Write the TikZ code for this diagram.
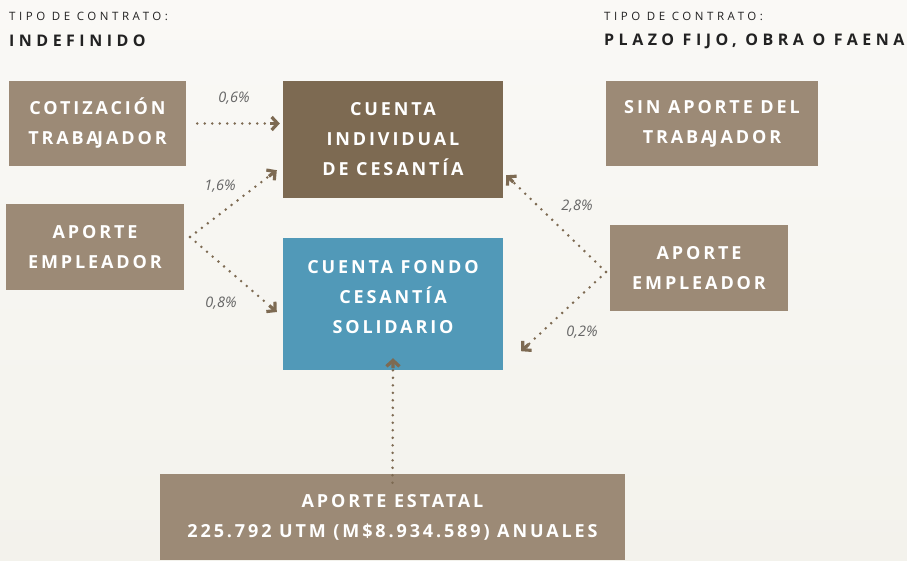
\documentclass[tikz,border=0pt]{standalone}
\usepackage{fontspec}
\setmainfont{Open Sans}
\newfontfamily\boxfont[LetterSpace=16]{Open Sans}
\newfontfamily\titlefont[LetterSpace=31]{Open Sans}
\newfontfamily\headfont[LetterSpace=28]{Open Sans}
\usetikzlibrary{arrows.meta,calc}
\definecolor{bgtop}{HTML}{FAF9F6}
\definecolor{bgbot}{HTML}{F3F2EC}
\definecolor{boxlight}{HTML}{9C8A76}
\definecolor{boxdark}{HTML}{7D6A52}
\definecolor{boxblue}{HTML}{5199B8}
\definecolor{labelgray}{HTML}{666666}
\definecolor{titleink}{HTML}{222222}
\tikzset{
  box/.style={fill=#1, text=white, align=center, inner sep=0pt,
    font=\boxfont\bfseries\fontsize{18}{30}\selectfont},
  pct/.style={text=labelgray, font=\itshape\fontsize{14.5}{16}\selectfont, inner sep=0pt},
  ttl/.style={text=titleink, anchor=west, inner sep=0pt},
  dotline/.style={draw=boxdark, line width=2.8pt, line cap=round, dash pattern=on 0pt off 7.5pt},
  tipline/.style={draw=boxdark, line width=3.2pt,
    -{Straight Barb[length=6pt,width=13pt,line width=3.2pt]}},
}
\newcommand\flowarr[2]{%
  \draw[dotline] #1 -- ($#2!10pt!#1$);
  \draw[tipline] ($#2!10pt!#1$) -- #2;}
\newcommand\trabj{TRABA\kern-1.5pt JADOR}
\begin{document}
\begin{tikzpicture}[x=1pt,y=-1pt]
\shade[top color=bgtop, bottom color=bgbot] (0,0) rectangle (907,560);
\useasboundingbox (0,0) rectangle (907,560);

\node[ttl, font=\titlefont\fontsize{11.5}{13}\selectfont] (t1) at (9,16) {TIPO DE CONTRATO:};
\node[ttl, font=\headfont\bfseries\fontsize{16}{18}\selectfont] (t2) at (9,41) {INDEFINIDO};
\node[ttl, font=\titlefont\fontsize{11.5}{13}\selectfont] (t3) at (604,16) {TIPO DE CONTRATO:};
\node[ttl, font=\headfont\bfseries\fontsize{16}{18}\selectfont] (t4) at (604,41) {PLAZO FIJO, OBRA O FAENA};

\node[box=boxlight, minimum width=177, minimum height=85] (cot) at (97.5,123.5) {COTIZACIÓN\\\trabj};
\node[box=boxdark, minimum width=220, minimum height=117] (cid) at (393,139.5) {CUENTA\\INDIVIDUAL\\DE CESANTÍA};
\node[box=boxlight, minimum width=178, minimum height=86] (empL) at (95,247) {APORTE\\EMPLEADOR};
\node[box=boxblue, minimum width=220, minimum height=132] (cfs) at (393,304) {};
\node[box=boxblue, text=white] (cfst) at (393,297) {CUENTA FONDO\\CESANTÍA\\SOLIDARIO};
\node[box=boxlight, minimum width=212, minimum height=85] (sin) at (712,123.5) {SIN APORTE DEL\\\trabj};
\node[box=boxlight, minimum width=178, minimum height=86] (empR) at (699,268) {APORTE\\EMPLEADOR};
\node[box=boxlight, minimum width=465, minimum height=86] (est) at (392.5,517) {APORTE ESTATAL\\225.792 UTM (M\$8.934.589) ANUALES};

\coordinate (aL) at (190,237);
\coordinate (aR) at (606,272);

\flowarr{([xshift=11]cot.east)}{([xshift=-3]cot.east -| cid.west)}
\flowarr{(aL)}{([shift={(-6,-28)}]cid.south west)}
\flowarr{(aL)}{([shift={(-6,8)}]cfs.west)}
\flowarr{(aR)}{([shift={(3,-23)}]cid.south east)}
\flowarr{(aR)}{([shift={(18,-19)}]cfs.south east)}
\flowarr{([yshift=-9]est.north)}{([yshift=12]cfs.south)}

\node[pct] (p1) at (234,98) {0,6\%};
\node[pct] (p2) at (220,186) {1,6\%};
\node[pct] (p3) at (221,303) {0,8\%};
\node[pct] (p4) at (577,206) {2,8\%};
\node[pct] (p5) at (582,332) {0,2\%};
\end{tikzpicture}
\end{document}
